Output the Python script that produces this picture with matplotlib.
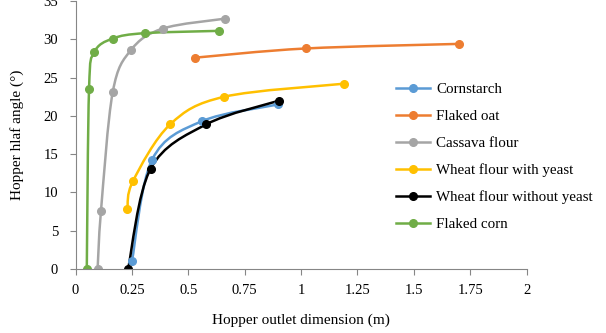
import matplotlib

matplotlib.use("Agg")
import matplotlib.pyplot as plt
import numpy as np
from matplotlib.lines import Line2D
from matplotlib.patches import PathPatch
from matplotlib.path import Path

plt.rcParams["font.family"] = ["Liberation Serif", "DejaVu Serif"]

# --- data --------------------------------------------------------------------
SERIES_NAMES = [
    "Cornstarch",
    "Flaked oat",
    "Cassava flour",
    "Wheat flour with yeast",
    "Wheat flour without yeast",
    "Flaked corn",
]
cornstarch_x = [0.25, 0.34, 0.56, 0.90]
cornstarch_y = [1.0, 14.3, 19.3, 21.5]
flaked_oat_x = [0.53, 1.02, 1.70]
flaked_oat_y = [27.6, 28.8, 29.4]
cassava_x = [0.098, 0.113, 0.165, 0.246, 0.387, 0.664]
cassava_y = [0.0, 7.6, 23.1, 28.6, 31.4, 32.7]
wheat_yeast_x = [0.23, 0.255, 0.42, 0.66, 1.19]
wheat_yeast_y = [7.9, 11.5, 18.9, 22.5, 24.2]
wheat_noyeast_x = [0.233, 0.333, 0.58, 0.904]
wheat_noyeast_y = [0.0, 13.1, 18.9, 22.0]
flaked_corn_x = [0.05, 0.06, 0.083, 0.165, 0.307, 0.635]
flaked_corn_y = [0.0, 23.5, 28.3, 30.1, 30.8, 31.1]

X_TICKS = [0, 0.25, 0.5, 0.75, 1, 1.25, 1.5, 1.75, 2]
X_TICK_LABELS = ["0", "0.25", "0.5", "0.75", "1", "1.25", "1.5", "1.75", "2"]
Y_TICKS = [0, 5, 10, 15, 20, 25, 30, 35]

COLORS = ["#5B9BD5", "#ED7D31", "#A5A5A5", "#FFC000", "#000000", "#70AD47"]


def smooth_path(xs, ys):
    """Excel-style smoothed line: cubic Bezier through the points."""
    pts = np.column_stack([xs, ys]).astype(float)
    n = len(pts)
    verts = [pts[0]]
    codes = [Path.MOVETO]
    for i in range(n - 1):
        p0 = pts[i - 1] if i > 0 else pts[i]
        p1, p2 = pts[i], pts[i + 1]
        p3 = pts[i + 2] if i + 2 < n else pts[i + 1]
        c1 = p1 + (p2 - p0) / 6.0
        c2 = p2 - (p3 - p1) / 6.0
        verts += [c1, c2, p2]
        codes += [Path.CURVE4] * 3
    return Path(verts, codes)


fig = plt.figure(figsize=(6.06, 3.33), dpi=100)
ax = fig.add_axes([0.1246, 0.192, 0.7443, 0.805])

all_series = [
    (cornstarch_x, cornstarch_y),
    (flaked_oat_x, flaked_oat_y),
    (cassava_x, cassava_y),
    (wheat_yeast_x, wheat_yeast_y),
    (wheat_noyeast_x, wheat_noyeast_y),
    (flaked_corn_x, flaked_corn_y),
]

handles = []
for (xs, ys), color, name in zip(all_series, COLORS, SERIES_NAMES):
    ax.add_patch(PathPatch(smooth_path(xs, ys), facecolor="none",
                           edgecolor=color, lw=1.8, capstyle="round"))
    ax.plot(xs, ys, linestyle="none", marker="o", ms=5.5, color=color)
    handles.append(Line2D([], [], color=color, lw=1.8, marker="o", ms=5.5, label=name))

ax.set_xlim(0, 2)
ax.set_ylim(0, 35)
ax.set_xticks(X_TICKS)
ax.set_xticklabels(X_TICK_LABELS)
ax.set_yticks(Y_TICKS)
ax.tick_params(labelsize=10.5, length=4.5, width=0.8, color="#868686")
ax.tick_params(axis="y", pad=8)
ax.tick_params(axis="x", pad=6)

for side in ("top", "right"):
    ax.spines[side].set_visible(False)
for side in ("left", "bottom"):
    ax.spines[side].set_color("#868686")
    ax.spines[side].set_linewidth(0.8)

ax.set_xlabel("Hopper outlet dimension (m)", fontsize=11, labelpad=12)
ax.set_ylabel("Hopper hlaf angle (°)", fontsize=11, labelpad=14)

ax.legend(handles=handles, loc="upper left", bbox_to_anchor=(0.68, 0.747),
          frameon=False, fontsize=10.8, handlelength=2.3, labelspacing=0.9,
          handletextpad=0.4)

fig.savefig("out.png", dpi=100)
